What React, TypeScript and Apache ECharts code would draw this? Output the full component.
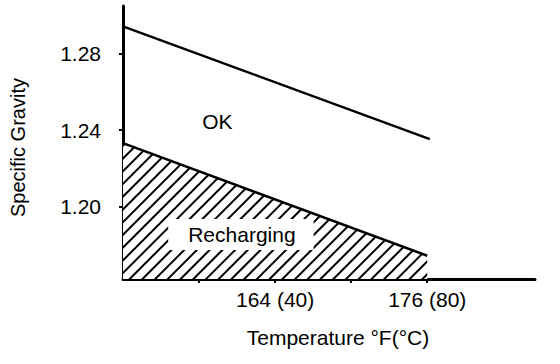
import { useEffect, useRef } from 'react';
import * as echarts from 'echarts';

// Data (x: temperature °F, y: specific gravity)
const upperLine: [number, number][] = [[152, 1.2943], [176.2, 1.2353]];
const lowerLine: [number, number][] = [[152, 1.2332], [176, 1.1742]];
const xTickValues = [158, 164, 170, 176];
const xLabelValues = [164, 176];
const xLabelText: Record<number, string> = { 164: '164 (40)', 176: '176 (80)' };
const yTickValues = [1.2, 1.24, 1.28];
const okLabel = { text: 'OK', coord: [159.45, 1.2445] };
const rechargeLabel = { text: 'Recharging', coord: [161.3, 1.1853] };

const FONT = '"Liberation Sans", Arial, Helvetica, sans-serif';

export default function App() {
  const ref = useRef<HTMLDivElement>(null);
  useEffect(() => {
    if (!ref.current) return;
    const chart = echarts.init(ref.current, undefined, { renderer: 'svg' });
    chart.setOption({
      animation: false,
      backgroundColor: '#fff',
      textStyle: { fontFamily: FONT, color: '#000' },
      grid: { left: 122, right: 25, top: 6, bottom: 85 },
      xAxis: {
        type: 'value',
        min: 152,
        max: 184.5,
        name: 'Temperature °F(°C)',
        nameLocation: 'middle',
        nameGap: 48,
        nameTextStyle: { fontSize: 21, color: '#000', fontFamily: FONT, padding: [0, 0, 0, 18] },
        axisLine: { show: true, lineStyle: { color: '#000', width: 3 } },
        axisTick: { show: true, customValues: xTickValues, length: 4, lineStyle: { color: '#000', width: 2 } },
        axisLabel: {
          customValues: xLabelValues,
          formatter: (v: number) => xLabelText[Math.round(v)] ?? '',
          fontSize: 21,
          color: '#000',
          fontFamily: FONT,
          margin: 10,
        },
        splitLine: { show: false },
      },
      yAxis: {
        type: 'value',
        min: 1.162,
        max: 1.305,
        name: 'Specific Gravity',
        nameLocation: 'middle',
        nameGap: 95,
        nameRotate: 90,
        nameTextStyle: { fontSize: 20, color: '#000', fontFamily: FONT, padding: [0, 10, 0, 0] },
        axisLine: { show: true, lineStyle: { color: '#000', width: 3 } },
        axisTick: { show: true, customValues: yTickValues, length: 4, lineStyle: { color: '#000', width: 2 } },
        axisLabel: {
          customValues: yTickValues,
          formatter: (v: number) => v.toFixed(2),
          fontSize: 21,
          color: '#000',
          fontFamily: FONT,
          margin: 22,
        },
        splitLine: { show: false },
      },
      series: [
        {
          type: 'line',
          data: upperLine,
          showSymbol: false,
          symbol: 'none',
          lineStyle: { color: '#000', width: 2.5 },
          markPoint: {
            symbol: 'circle',
            symbolSize: 0,
            label: { show: true, position: 'inside', fontSize: 21, color: '#000', fontFamily: FONT, formatter: (p: any) => p.name },
            data: [{ name: okLabel.text, coord: okLabel.coord }],
          },
        },
        {
          type: 'line',
          data: lowerLine,
          showSymbol: false,
          symbol: 'none',
          lineStyle: { color: '#000', width: 2.5 },
          itemStyle: {
            color: '#000',
            decal: {
              symbol: 'rect',
              symbolSize: 1,
              dashArrayX: [1, 0],
              dashArrayY: [2, 7],
              rotation: -Math.PI / 4,
              color: '#000',
              backgroundColor: '#fff',
            },
          },
          areaStyle: { color: '#fff', opacity: 1 },
          markPoint: {
            symbol: 'circle',
            symbolSize: 0,
            z: 10,
            label: {
              show: true,
              position: 'inside',
              fontSize: 21,
              color: '#000',
              fontFamily: FONT,
              backgroundColor: '#fff',
              padding: [5, 18, 5, 20],
              formatter: (p: any) => p.name,
            },
            data: [{ name: rechargeLabel.text, coord: rechargeLabel.coord }],
          },
        },
      ],
    });
    return () => chart.dispose();
  }, []);
  return <div ref={ref} style={{ position: 'fixed', left: 0, top: 0, width: 560, height: 364 }} />;
}
